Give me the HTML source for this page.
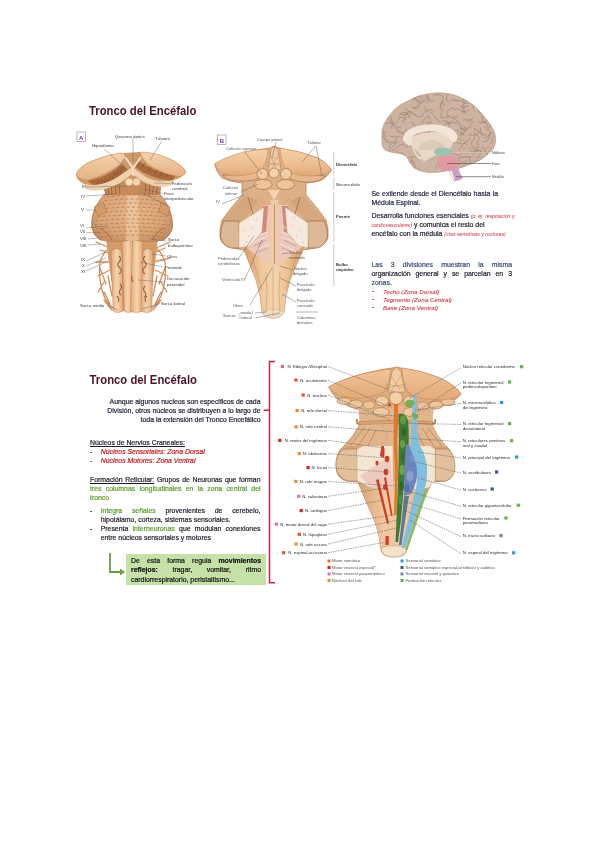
<!DOCTYPE html>
<html><head><meta charset="utf-8"><style>
html,body{margin:0;padding:0;background:#fff;}
body{width:600px;height:848px;position:relative;overflow:hidden;font-family:"Liberation Sans", sans-serif;}
.t{position:absolute;white-space:nowrap;line-height:1;-webkit-text-stroke:0.2px currentColor;}
.tj{text-align:justify;text-align-last:justify;white-space:normal;}
</style></head><body>
<svg style="position:absolute;left:0;top:0" width="600" height="848"><defs><filter id="soft" x="0" y="0" width="600" height="848" filterUnits="userSpaceOnUse"><feGaussianBlur stdDeviation="0.3"/></filter></defs><g filter="url(#soft)"><defs>
<linearGradient id="gThal" x1="0" y1="0" x2="0" y2="1"><stop offset="0" stop-color="#f4d2ae"/><stop offset="1" stop-color="#e6b284"/></linearGradient>
<radialGradient id="gPons" cx="0.5" cy="0.45" r="0.62"><stop offset="0" stop-color="#e6b68a"/><stop offset="0.65" stop-color="#daa476"/><stop offset="1" stop-color="#c48c5e"/></radialGradient>
<linearGradient id="gPyr" x1="0" y1="0" x2="1" y2="0"><stop offset="0" stop-color="#e2a878"/><stop offset="0.5" stop-color="#f6d4ae"/><stop offset="1" stop-color="#e0a676"/></linearGradient>
</defs><g><path d="M112 246 Q104 250 100 262 Q98 280 104 296 Q108 306 118 311 M114 254 L100 250 M112 262 L96 262 M110 270 L98 276 M104 282 L98 292 M104 292 L110 304 M100 268 L106 284 M108 276 L112 296 M153 246 Q161 250 165 262 Q167 280 161 296 Q157 306 147 311 M151 254 L165 248 M153 262 L170 258 M155 270 L168 276 M161 282 L167 292 M161 292 L155 304 M165 268 L159 284 M157 276 L153 296 M110 248 L96 242 M156 248 L170 242 M104 300 L112 310 M161 300 L153 310" stroke="#cf8e5c" stroke-width="1.3" fill="none" stroke-linecap="round"/><path d="M106 238 L158 238 L156 256 L150 300 L146 311 L118 311 L114 300 L108 256 Z" fill="#d49a68"/><path d="M111 252 Q116.5 245 122 252 L123.1 311 Q117.0 314 113.2 311 Z" fill="url(#gPyr)" stroke="#b07a4a" stroke-width="0.45"/><path d="M122 242 Q127.25 235 132.5 242 L133.6 311 Q127.8 314 124.2 311 Z" fill="url(#gPyr)" stroke="#b07a4a" stroke-width="0.45"/><path d="M132.5 242 Q137.75 235 143 242 L141.9 311 Q137.2 314 130.3 311 Z" fill="url(#gPyr)" stroke="#b07a4a" stroke-width="0.45"/><path d="M143 252 Q148.0 245 153 252 L151.9 311 Q147.5 314 140.8 311 Z" fill="url(#gPyr)" stroke="#b07a4a" stroke-width="0.45"/><path d="M119 256 q3 3 0 6 q-3 3 1 6 q3 3 -1 6 M145 256 q-3 3 0 6 q3 3 -1 6 q-3 3 1 6 M120 284 q3 3 0 6 q-2 3 1 5 M145 286 q-3 3 0 6 q2 3 -1 5 M132 276 q-1 3 1 6 M117 296 q3 3 1 6 M147 296 q-3 3 -1 6" stroke="#9a5e34" stroke-width="1.1" fill="none"/><path d="M110 189 Q132 186 155 189 Q163 196 168 206 Q173 216 172.5 226 Q171 235 164 240 Q150 243 132 240 Q114 243 100 240 Q93 235 91.5 226 Q91 216 96 206 Q101 196 110 189 Z" fill="url(#gPons)" stroke="#a87048" stroke-width="0.5"/><path d="M127 190 Q132 188 138 190 L139 240 Q132 242 126 240 Z" fill="#f0cba4" opacity="0.7"/><path d="M106.5 197 Q132 193 157.5 197 M104.6 201 Q132 197 159.4 201 M102.8 205 Q132 201 161.2 205 M100.9 209 Q132 205 163.1 209 M99.1 213 Q132 209 164.9 213 M97.2 217 Q132 213 166.8 217 M95.4 221 Q132 217 168.6 221 M94.5 225 Q132 221 169.5 225 M96.3 229 Q132 225 167.7 229 M98.2 233 Q132 229 165.8 233 M100.0 237 Q132 233 164.0 237" stroke="#a86c42" stroke-width="0.8" stroke-dasharray="3 2.2" fill="none" opacity="0.8"/><path d="M96 206 Q91 218 92 228 Q94 236 100 240 M168 206 Q173 218 172.5 228 Q170 236 164 240" stroke="#b07a4c" stroke-width="0.7" fill="none"/><path d="M100 228 Q108 232 112 240 M164 228 Q156 232 152 240" stroke="#a86c42" stroke-width="1" fill="none"/><path d="M94 207 L103 202 L107 212 L98 216 Z M161 202 L170 207 L168 216 L159 212 Z" fill="#d49a68" stroke="#9a6a40" stroke-width="0.5"/><path d="M76 174 Q80 165 94 160 Q110 154 124 153 L140 152 Q158 153 172 160 Q184 166 186 172 Q182 178 174 180 L160 182 L160 194 L106 194 L104 186 Q92 186 84 184 Q76 180 76 174 Z" fill="#cf9868"/><path d="M102 182 L162 182 L160 195 L106 195 Z" fill="#c68b58"/><path d="M103 183 L106 195 M107 183 L109 195 M111 183 L112 195 M115 183 L116 195 M119 184 L120 194 M146 184 L145 194 M150 183 L149 195 M154 183 L152 195 M158 183 L156 195" stroke="#8e5630" stroke-width="0.7"/><path d="M88 181 Q108 177 122 164 L128 170 Q112 183 94 186 Z" fill="#a86a3c"/><path d="M138 160 Q152 172 176 175 L172 181 Q150 179 134 166 Z" fill="#a86a3c"/><path d="M96 185 L99 180 M100 184 L103 179 M104 183 L107 178 M108 181 L111 176 M112 179 L115 173 M116 176 L119 170 M120 173 L123 167 M142 167 L145 163 M148 171 L151 167 M154 174 L157 170 M160 176 L163 172 M166 177 L169 173" stroke="#7a4624" stroke-width="0.6"/><path d="M84 184 Q100 188 118 177 L132 167 L146 177 Q160 184 174 180 L172 185 Q160 190 144 182 L132 174 L120 183 Q100 194 86 189 Z" fill="#f0d0ae"/><path d="M76 174 Q80 166 92 161 Q106 155 120 153 Q126 153 125 157 Q122 164 112 170 Q100 177 88 180 Q78 180 76 174 Z" fill="url(#gThal)" stroke="#b88050" stroke-width="0.45"/><path d="M140 152 Q156 152 170 159 Q182 165 186 172 Q184 177 176 176 Q164 174 152 167 Q142 161 140 152 Z" fill="url(#gThal)" stroke="#b88050" stroke-width="0.45"/><path d="M125 157 L133 168 L141 157" stroke="#f6e0c6" stroke-width="2" fill="none"/><path d="M133 168 L133 176" stroke="#f6e0c6" stroke-width="1.5"/><circle cx="129" cy="182" r="3.6" fill="#f6dcc0"/><circle cx="136.5" cy="182" r="3.6" fill="#f3d4b4"/><g font-family="Liberation Sans" font-size="4.3" fill="#3a3a3a"><text x="114.7" y="137.5" text-anchor="start">Quiasma óptico</text><text x="155.5" y="139.5" text-anchor="start">Tálamo</text><text x="92" y="147" text-anchor="start">Hipotálamo</text><text x="82" y="188" text-anchor="start">III</text><text x="81" y="197.5" text-anchor="start">IV</text><text x="81" y="211" text-anchor="start">V</text><text x="80" y="227" text-anchor="start">VI</text><text x="80" y="233" text-anchor="start">VII</text><text x="80" y="240" text-anchor="start">VIII</text><text x="80" y="246.5" text-anchor="start">VIII</text><text x="81" y="261" text-anchor="start">IX</text><text x="82" y="266.5" text-anchor="start">X</text><text x="81" y="272.5" text-anchor="start">XI</text><text x="80" y="307" text-anchor="start">Surco medio</text><text x="171.5" y="185" text-anchor="start">Pedúnculo</text><text x="172" y="190" text-anchor="start">cerebral</text><text x="164" y="195" text-anchor="start">Fosa</text><text x="164" y="200" text-anchor="start">interpeduncular</text><text x="168" y="241" text-anchor="start">Surco</text><text x="168" y="246.5" text-anchor="start">bulbopontino</text><text x="167" y="257.5" text-anchor="start">Oliva</text><text x="165" y="268.5" text-anchor="start">Pirámide</text><text x="167" y="280" text-anchor="start">Decusación</text><text x="167" y="285.5" text-anchor="start">piramidal</text><text x="161" y="304.5" text-anchor="start">Surco lateral</text></g><path d="M133 138 V162 M162 141 L150 160 M104 149 L128 170 M86 187 L128 186 M86 196 L115 194 M86 210 L96 210 M86 228 L108 226 M86 233 L100 232 M88 239 L98 238 M88 245 L100 244 M86 261 L106 252 M86 266 L106 258 M86 271 L106 262 M107 305.5 L118 310 M170 183.5 L154 183 M163 193.5 L140 188 M168 206 L140 192 M166 241 L150 239 M166 256 L152 254 M163 267 L140 262 M165 282 L138 280 M160 303.5 L142 309" stroke="#666" stroke-width="0.45" fill="none"/><rect x="77" y="132" width="8.5" height="9.5" fill="#fff" stroke="#9a7ab0" stroke-width="0.6"/><text x="81.2" y="139.5" font-family="Liberation Sans" font-size="6" font-weight="bold" fill="#6a3a9a" text-anchor="middle">A</text></g><g><defs>
<linearGradient id="gThB" x1="0" y1="0" x2="0" y2="1"><stop offset="0" stop-color="#f4d0a8"/><stop offset="0.6" stop-color="#eebe90"/><stop offset="1" stop-color="#e0a878"/></linearGradient>
<linearGradient id="gMedB" x1="0" y1="0" x2="1" y2="0"><stop offset="0" stop-color="#d89a68"/><stop offset="0.3" stop-color="#f0c89c"/><stop offset="0.5" stop-color="#f4d4ae"/><stop offset="0.7" stop-color="#eec496"/><stop offset="1" stop-color="#d49866"/></linearGradient>
</defs><path d="M214.7 164 Q230 156 250 151 Q262 149 270 148 L274 146 L279 148 Q300 151 318 158 Q328 164 331.5 170 Q328 176 322 180 Q314 183 306 183 L306 195 Q316 206 326 220 Q329 230 328 238 Q325 247 310 249 L303 250 Q296 265 290 280 Q285 296 284 312 Q281 318 273 318 Q264 318 262 312 Q261 296 256 280 Q250 265 244 250 L238 249 Q222 247 220 238 Q219 230 222 220 Q232 206 242 195 L242 183 Q230 182 222 178 Q216 172 214.7 164 Z" fill="#ddb088" stroke="#a87044" stroke-width="0.6"/><path d="M246.0 196.0 L222.0 222.0 M302.0 196.0 L326.0 222.0 M247.5 196.5 L224.2 222.2 M300.5 196.5 L323.8 222.2 M249.0 197.0 L226.4 222.4 M299.0 197.0 L321.6 222.4 M250.5 197.5 L228.6 222.6 M297.5 197.5 L319.4 222.6 M252.0 198.0 L230.8 222.8 M296.0 198.0 L317.2 222.8 M253.5 198.5 L233.0 223.0 M294.5 198.5 L315.0 223.0 M255.0 199.0 L235.2 223.2 M293.0 199.0 L312.8 223.2 M256.5 199.5 L237.4 223.4 M291.5 199.5 L310.6 223.4 M258.0 200.0 L239.6 223.6 M290.0 200.0 L308.4 223.6" stroke="#b48254" stroke-width="0.45" opacity="0.9"/><path d="M250 198 L262 208 M258 198 L266 206 M298 198 L286 208 M290 198 L282 206" stroke="#c09060" stroke-width="0.5"/><path d="M244 247 L304 247 Q296 265 290 280 Q285 296 284 312 Q281 318 273 318 Q264 318 262 312 Q261 296 256 280 Q250 265 244 247 Z" fill="url(#gMedB)"/><path d="M262 312 Q273 306 284 312 Q281 318 273 318 Q264 318 262 312 Z" fill="#f3dcc4" stroke="#c8a080" stroke-width="0.4"/><path d="M273 262 V316 M266 272 Q268 292 266 312 M280 272 Q278 292 280 312 M252 256 L262 290 M296 256 L286 290" stroke="#b88050" stroke-width="0.5" fill="none" opacity="0.8"/><path d="M224 221 Q220 228 220.5 236 Q222 246 231 248 L240 248 L239 221 Z" fill="#dcb896" stroke="#9a6a40" stroke-width="0.7"/><path d="M307 221 L308 248 L317 248 Q326 246 327.5 236 Q328 228 324 221 Z" fill="#dcb896" stroke="#9a6a40" stroke-width="0.7"/><path d="M262 205 L288 205 Q296 226 304 246 Q290 256 274 267 Q258 256 244 246 Q252 226 262 205 Z" fill="#eac8bc"/><path d="M262 206 L268 206 L266 232 L252 236 Z M288 206 L282 206 L284 232 L298 236 Z" fill="#d4887c"/><path d="M250 244 L268 236 M252 238 L268 232 M282 232 L298 238 M282 237 L300 244 M256 250 L270 244 M280 244 L294 250 M282 226 L294 232" stroke="#f8eae2" stroke-width="0.8"/><path d="M254 246 L266 240 M284 240 L296 246 M258 252 L268 248 M282 248 L292 252" stroke="#a86a50" stroke-width="0.6" opacity="0.7"/><path d="M270.5 200 H278.5 V262 L274.5 267 L270.5 262 Z" fill="#eecba6"/><path d="M274.5 204 V264" stroke="#a87048" stroke-width="0.6"/><path d="M239 223 L264 207 L262 232 L250 246 L239 248 Z" fill="#f6eadf" stroke="#b88a60" stroke-width="0.4"/><path d="M308 223 L285 207 L287 232 L299 246 L308 248 Z" fill="#f6eadf" stroke="#b88a60" stroke-width="0.4"/><path d="M243 230 h0.6 M248 236 h0.6 M252 228 h0.6 M246 242 h0.6 M256 220 h0.6 M300 230 h0.6 M296 236 h0.6 M292 226 h0.6 M302 242 h0.6 M294 218 h0.6" stroke="#9a7050" stroke-width="0.8"/><path d="M248 197 L253 214 M300 197 L295 214" stroke="#9a6a40" stroke-width="0.8"/><path d="M222 175 Q230 182 242 181 Q254 182 262 176 L258 170 Q240 176 222 175 Z M326 176 Q318 183 306 182 Q294 182 286 176 L290 170 Q308 176 326 176 Z" fill="#e8b88c" stroke="#9a6a40" stroke-width="0.6"/><path d="M214.7 164 Q224 157 244 152 Q258 149 268 149 Q268 160 262 170 Q250 176 232 176 Q218 173 214.7 164 Z" fill="url(#gThB)" stroke="#b88050" stroke-width="0.45"/><path d="M280 148 Q300 151 318 158 Q328 164 331.5 170 Q326 176 312 176 Q294 176 286 170 Q280 160 280 148 Z" fill="url(#gThB)" stroke="#b88050" stroke-width="0.45"/><path d="M268 170 L271 150 L274 146 L278 150 L281 170 Z" fill="#efcaa4" stroke="#a87848" stroke-width="0.5"/><path d="M266 162 L282 166 M282 162 L266 166 M269 152 L276 168 M279 152 L272 168 M271 158 H278" stroke="#b88a5c" stroke-width="0.45"/><ellipse cx="263" cy="184.5" rx="9" ry="5" fill="#efc49a" stroke="#9a6a40" stroke-width="0.6"/><ellipse cx="285.5" cy="184.5" rx="9" ry="5" fill="#efc49a" stroke="#9a6a40" stroke-width="0.6"/><circle cx="262.5" cy="174" r="5.5" fill="#f2cca4" stroke="#9a6a40" stroke-width="0.6"/><circle cx="286" cy="174" r="5.5" fill="#f2cca4" stroke="#9a6a40" stroke-width="0.6"/><circle cx="274" cy="173" r="5" fill="#f4d2ac" stroke="#9a6a40" stroke-width="0.6"/><path d="M268 190 L274 200 L280 190 Z" fill="#f2d2b0"/><g font-family="Liberation Sans" font-size="4.1" fill="#555"><text x="257" y="140.5" text-anchor="start" >Cuerpo pineal</text><text x="226" y="150" text-anchor="start" >Colículo superior</text><text x="307" y="144" text-anchor="start" >Tálamo</text><text x="223" y="189" text-anchor="start" >Colículo</text><text x="225" y="194.5" text-anchor="start" >inferior</text><text x="216" y="202.5" text-anchor="start" >IV</text><text x="218" y="259.5" text-anchor="start" >Pedúnculos</text><text x="218" y="265" text-anchor="start" >cerebelosos</text><text x="222" y="280.5" text-anchor="start" >Ventrículo IV</text><text x="233" y="306.5" text-anchor="start" >Óbex</text><text x="223" y="316.5" text-anchor="start" >Surcos</text><text x="240.5" y="313.5" text-anchor="start" >medial</text><text x="240.5" y="319" text-anchor="start" >lateral</text><text x="289" y="254" text-anchor="start" >Núcleo</text><text x="289" y="259" text-anchor="start" >cuneado</text><text x="294" y="270" text-anchor="start" >Núcleo</text><text x="293" y="275" text-anchor="start" >delgado</text><text x="297" y="286" text-anchor="start" >Fascículo</text><text x="297" y="291" text-anchor="start" >delgado</text><text x="297" y="302" text-anchor="start" >Fascículo</text><text x="297" y="307" text-anchor="start" >cuneado</text><text x="297" y="318.5" text-anchor="start" >Columnas</text><text x="297" y="323.5" text-anchor="start" >dorsales</text></g><g font-family="Liberation Sans" font-size="4.2" fill="#333"><text x="336" y="166" font-weight="bold">Diencéfalo</text><text x="336" y="185.5">Mesencéfalo</text><text x="336" y="218" font-weight="bold">Puente</text><text x="336" y="265.5" font-weight="bold">Bulbo</text><text x="336" y="270.5" font-weight="bold">raquídeo</text></g><path d="M333.8 151.7 V175 M333.8 177 V190 M333.8 192 V242 M333.8 244 V286.5 M239 313 V319" stroke="#aaa" stroke-width="0.6"/><path d="M276 142 L272 158 M244 151 L262 174 M316 146 L302 162 M316 146 L322 176 M241 192 L258 184 M222 204 L244 195 M238 259 L254 236 M245 279 L262 240 M250 305 L272 268 M255 313 L266 312 M255 318 L280 313 M288 253 L282 254 M293 270 L280 266 M296 286 L280 278 M296 302 L282 294 M296 312 L318 312" stroke="#555" stroke-width="0.45" fill="none"/><rect x="217.5" y="135" width="8.5" height="9.5" fill="#fff" stroke="#9a7ab0" stroke-width="0.6"/><text x="221.8" y="142.5" font-family="Liberation Sans" font-size="6" font-weight="bold" fill="#6a3a9a" text-anchor="middle">B</text></g><g><defs><clipPath id="brainClip"><path d="M382 140 Q381 130 384 124 Q388 116 394 110 Q401 103 410 100 Q418 95 427 94 Q436 92 444 93 Q456 94 466 100 Q476 106 483 115 Q491 124 494 131 Q497 138 495 145 Q494 150 488 154 Q482 160 474 163 Q466 166 460 168 Q452 170 446 171 Q438 173 429 172.5 Q420 172 414 168 Q409 163 407 157 Q402 153 396 153 Q387 152 384 149 Q381 145 382 140 Z"/></clipPath></defs><path d="M382 140 Q381 130 384 124 Q388 116 394 110 Q401 103 410 100 Q418 95 427 94 Q436 92 444 93 Q456 94 466 100 Q476 106 483 115 Q491 124 494 131 Q497 138 495 145 Q494 150 488 154 Q482 160 474 163 Q466 166 460 168 Q452 170 446 171 Q438 173 429 172.5 Q420 172 414 168 Q409 163 407 157 Q402 153 396 153 Q387 152 384 149 Q381 145 382 140 Z" fill="#cfb3a2"/><g clip-path="url(#brainClip)"><path d="M384.6 123.5 Q387.2 123.5 387.9 122.8 Q389.3 123.4 391.0 122.9 Q393.4 122.4 394.2 124.0 Q395.9 123.5 397.2 121.6 M383.1 129.5 Q383.6 131.0 383.2 132.7 Q385.4 135.3 385.2 136.2 Q384.7 137.1 385.4 139.1 M381.9 137.3 Q381.4 137.6 379.3 140.4 Q379.1 143.4 379.1 144.2 Q379.6 146.2 379.5 146.8 Q380.0 148.9 381.2 148.8 M385.3 141.1 Q386.7 142.3 388.1 142.5 Q390.9 142.8 391.3 141.9 Q392.5 142.4 394.2 140.7 M391.6 116.7 Q391.0 118.6 391.7 120.0 Q393.3 121.5 392.7 123.0 Q392.3 124.1 393.4 126.8 M393.0 123.6 Q394.4 125.3 395.4 126.1 Q395.7 125.9 398.1 127.8 Q399.1 127.9 401.2 126.9 M390.5 128.6 Q391.7 126.4 391.8 126.2 Q392.5 124.8 391.6 122.9 Q389.8 120.1 389.5 119.6 Q387.1 118.1 386.7 118.1 M390.3 136.4 Q391.5 137.0 393.5 136.5 Q395.7 137.6 397.4 136.8 Q398.5 135.7 400.5 136.8 Q400.7 136.7 403.0 137.5 M389.2 140.9 Q387.9 140.9 385.4 140.0 Q383.8 139.0 382.9 137.0 Q383.1 135.9 383.6 133.3 Q385.3 132.1 386.4 131.4 M391.4 150.5 Q392.6 149.7 394.1 149.6 Q395.5 150.5 397.0 151.6 Q398.3 152.2 399.5 153.7 Q401.9 152.6 402.0 153.2 Q403.6 154.9 405.2 154.6 M390.3 155.2 Q388.8 155.1 386.5 155.3 Q385.9 153.5 384.5 153.1 Q384.0 152.8 381.6 150.7 Q379.6 149.2 378.5 149.3 Q377.7 149.1 375.1 147.8 M398.0 107.1 Q397.4 106.8 399.1 104.7 Q398.4 102.8 397.2 101.7 Q396.5 100.3 397.5 99.2 Q395.3 97.2 394.4 97.0 Q392.7 98.0 391.2 98.3 M398.8 116.5 Q399.3 115.6 401.0 113.6 Q401.5 112.3 404.1 112.4 Q406.8 112.8 407.3 113.2 Q408.5 115.0 407.9 115.9 Q410.0 116.6 410.3 117.9 M397.8 120.5 Q399.6 119.8 399.6 117.7 Q401.6 117.0 402.8 117.7 Q404.8 119.1 406.1 119.4 M396.6 131.0 Q398.0 131.9 400.2 130.8 Q400.4 131.7 402.5 132.9 Q403.7 133.1 404.9 135.6 Q405.7 136.2 405.0 138.2 M397.2 137.4 Q396.4 139.6 395.6 141.0 Q395.3 143.3 394.6 144.6 Q393.5 146.5 392.2 146.7 M398.3 141.3 Q397.8 143.0 395.1 142.8 Q392.8 143.2 392.2 143.4 Q390.8 143.6 389.8 145.5 Q390.2 145.9 390.5 148.5 Q390.6 148.9 388.3 151.1 M396.0 148.3 Q398.6 146.6 399.2 146.0 Q400.0 145.9 401.2 144.3 Q402.4 143.9 404.4 145.0 Q405.3 146.5 407.9 146.7 M395.6 155.5 Q396.0 156.9 397.7 158.4 Q399.5 160.1 399.6 161.1 Q400.8 161.8 400.1 164.7 Q400.1 166.6 399.6 168.4 Q397.6 168.6 396.9 170.3 M403.4 101.5 Q404.9 98.7 404.4 97.7 Q403.3 95.0 403.4 94.2 Q404.7 91.9 404.6 91.4 M404.5 108.9 Q406.7 109.0 407.4 109.7 Q408.4 112.1 410.0 112.0 Q410.2 112.7 410.5 115.7 M406.3 115.6 Q405.9 115.0 406.9 112.8 Q407.7 111.2 410.6 111.7 Q412.4 112.3 413.0 113.8 Q414.2 115.0 415.7 115.7 M402.6 123.0 Q402.8 122.6 403.7 120.2 Q405.2 118.7 405.3 118.0 Q405.6 117.2 404.2 114.4 M407.2 129.3 Q405.4 131.8 404.8 132.2 Q403.9 132.6 401.4 133.4 Q400.2 133.1 398.1 131.5 Q397.9 129.1 396.7 128.7 Q394.4 127.3 394.4 126.5 M405.7 136.6 Q406.2 137.1 407.2 139.0 Q408.8 138.5 410.4 139.3 Q411.8 137.3 412.7 137.2 Q412.5 135.8 412.6 134.3 Q412.3 132.3 414.3 131.3 M405.1 158.7 Q405.7 160.6 405.8 161.3 Q406.8 161.8 409.5 162.4 Q411.2 160.7 412.5 161.1 Q413.9 162.2 415.1 162.8 M404.3 162.9 Q405.5 160.2 405.5 159.6 Q407.2 158.4 408.3 157.7 Q409.1 157.1 410.8 157.1 Q412.1 157.8 414.4 157.0 Q415.2 156.5 417.2 154.8 M413.6 96.0 Q414.4 97.2 414.7 98.5 Q415.9 98.2 417.0 99.7 Q418.5 99.7 420.2 100.9 M412.4 100.6 Q412.9 98.8 414.5 98.9 Q415.2 97.8 416.9 96.6 Q418.6 97.2 419.8 96.7 Q420.5 96.7 422.3 97.9 Q422.8 98.8 422.7 101.2 M412.9 108.6 Q413.7 108.6 416.3 108.3 Q417.4 107.3 417.7 106.0 Q418.7 104.3 419.9 103.9 Q421.5 101.3 421.5 100.7 M410.1 116.5 Q408.4 114.6 407.2 114.3 Q405.6 114.0 403.5 114.7 Q401.1 114.3 400.1 113.1 M412.4 121.8 Q413.1 123.8 413.9 124.8 Q414.3 125.3 416.7 127.1 Q416.9 128.8 418.1 129.4 Q417.4 130.5 418.4 132.3 Q416.9 134.2 417.2 135.1 M414.0 162.7 Q414.8 165.1 415.2 166.0 Q414.6 166.7 414.6 169.1 Q413.1 170.2 413.6 171.6 Q411.2 171.3 410.2 173.1 M410.3 170.0 Q412.1 167.8 412.6 167.6 Q413.2 164.8 412.0 164.0 Q412.7 163.0 412.3 161.3 Q412.3 160.1 411.1 158.7 M420.3 93.5 Q419.1 95.0 417.7 95.4 Q415.6 96.5 413.9 96.1 Q412.8 96.6 410.2 95.4 Q409.5 93.8 408.2 92.0 M420.1 102.5 Q417.9 102.2 417.4 101.3 Q416.2 100.3 415.4 99.1 Q413.5 99.1 411.8 97.9 Q411.4 99.0 409.1 98.2 M420.3 105.6 Q418.7 106.5 417.9 107.0 Q416.3 107.4 414.8 108.0 Q414.5 108.2 412.2 106.3 M419.6 117.2 Q419.2 117.2 416.7 116.3 Q416.7 115.1 415.0 114.3 Q414.4 115.1 412.4 113.6 Q411.9 111.1 410.1 110.7 M421.1 124.0 Q421.8 123.7 422.9 121.7 Q422.9 121.1 424.6 118.5 Q426.4 118.2 427.1 117.4 Q428.5 116.2 429.5 116.5 M419.0 168.6 Q419.2 169.0 417.7 170.9 Q415.9 173.0 415.8 173.5 Q414.5 174.5 415.2 176.5 M425.8 95.1 Q426.4 97.4 426.2 98.6 Q425.4 100.6 424.8 100.9 Q423.0 100.8 422.2 102.6 Q421.1 103.1 418.4 102.6 Q417.8 102.6 416.7 100.4 M427.2 103.3 Q427.1 102.5 428.4 100.6 Q428.6 99.2 428.5 96.7 Q426.8 94.1 427.2 93.2 Q426.0 91.8 423.9 92.0 Q422.2 90.8 420.1 91.6 M424.6 106.3 Q425.7 108.8 425.2 109.2 Q425.5 110.5 427.6 110.8 Q429.5 112.3 430.9 112.8 Q432.6 113.2 433.0 114.9 M428.4 115.1 Q428.0 116.5 429.4 118.5 Q430.6 120.5 430.3 122.1 Q432.8 123.1 433.4 124.0 M425.3 122.0 Q428.4 122.9 429.1 122.9 Q428.6 124.8 430.3 126.0 Q430.0 127.1 429.7 128.6 Q430.8 129.4 430.1 131.2 Q429.6 131.8 428.1 133.7 M425.3 172.3 Q424.3 172.8 425.3 175.6 Q427.6 177.5 427.8 178.7 Q429.9 179.2 430.9 180.3 M433.5 95.5 Q434.8 94.5 436.0 95.3 Q436.5 94.2 438.9 94.4 Q440.6 95.7 440.9 96.0 M434.4 100.5 Q433.2 101.1 431.3 100.8 Q429.7 101.1 428.1 99.1 Q427.3 97.1 426.9 95.5 M433.3 110.0 Q430.7 110.7 430.3 109.4 Q428.4 109.5 426.9 110.2 Q426.4 112.2 424.0 112.4 Q422.7 115.0 422.6 115.9 Q420.0 117.1 419.4 116.4 M433.2 115.8 Q435.5 116.7 435.9 118.2 Q436.3 119.8 438.2 120.6 Q438.2 121.5 440.3 122.2 M431.1 123.9 Q429.5 124.3 428.8 125.6 Q429.6 127.3 428.9 129.4 Q428.3 129.9 430.0 132.6 Q429.2 134.9 428.4 135.1 M435.5 169.5 Q436.3 167.1 436.5 165.7 Q437.5 164.3 439.7 163.4 Q442.2 164.4 442.6 164.0 M439.6 92.3 Q440.1 91.2 442.1 91.2 Q443.7 91.5 445.8 91.1 Q446.4 91.8 448.2 93.5 M442.1 101.8 Q440.3 104.2 440.5 104.6 Q440.1 106.6 442.0 108.1 Q442.7 108.8 443.0 111.1 Q441.3 112.7 441.1 113.1 Q440.7 115.9 442.1 116.7 M440.6 110.1 Q439.7 108.6 440.3 106.8 Q441.0 106.0 441.0 103.9 Q442.2 102.8 441.8 100.7 M440.1 117.3 Q442.0 117.7 443.2 118.0 Q445.4 116.9 446.6 117.0 Q448.7 116.0 450.3 116.2 M438.5 124.4 Q438.2 124.5 439.6 126.9 Q440.2 127.7 441.0 129.7 Q441.6 131.2 440.4 132.3 Q439.2 133.2 439.2 135.8 M439.1 126.7 Q438.2 127.8 436.1 128.9 Q434.3 128.8 433.0 129.9 Q431.6 130.3 429.7 131.0 Q429.0 132.6 427.3 133.1 Q426.6 133.0 424.7 132.4 M442.2 173.4 Q441.8 171.0 442.7 169.8 Q442.9 169.4 443.4 167.0 Q444.5 165.8 443.3 164.0 Q442.3 162.2 440.5 162.5 Q439.7 162.4 437.1 161.9 M448.9 93.8 Q447.2 94.9 446.7 96.8 Q446.0 97.7 446.9 100.1 Q447.5 101.2 449.0 102.6 M449.5 101.9 Q449.5 100.3 451.7 99.7 Q453.4 100.7 455.1 100.4 Q457.0 100.2 458.3 101.2 M445.0 105.8 Q444.7 104.0 442.7 104.1 Q442.9 103.1 443.3 100.4 Q444.1 99.4 443.0 97.5 Q442.1 95.3 441.3 94.6 M447.1 113.1 Q446.9 115.1 448.4 116.2 Q450.3 116.3 451.4 118.2 Q453.3 118.0 454.3 118.1 Q455.5 117.1 457.9 117.1 M446.2 120.6 Q446.2 122.4 448.5 122.9 Q447.8 125.4 449.3 126.3 Q448.5 128.4 449.6 129.3 M445.6 166.1 Q446.7 168.2 447.7 169.0 Q447.2 170.2 446.7 172.6 Q446.5 174.3 444.2 174.1 M445.1 173.0 Q445.4 171.4 445.2 169.8 Q443.6 168.1 444.3 167.1 Q444.5 166.0 445.9 164.2 Q445.9 163.7 445.4 161.0 M453.3 94.4 Q454.8 94.0 456.7 94.1 Q459.2 92.8 459.9 92.1 Q460.2 92.5 462.3 92.9 M453.0 100.3 Q453.9 99.8 455.9 100.6 Q459.0 99.6 459.8 101.1 Q462.3 100.5 463.5 102.0 M455.6 109.9 Q453.4 109.8 453.6 108.2 Q451.2 107.4 450.5 108.1 Q449.8 109.8 448.2 110.1 Q447.2 111.9 446.9 112.9 M454.0 115.7 Q453.1 116.3 454.0 119.0 Q455.6 118.8 456.2 120.5 Q457.7 120.6 459.4 122.3 Q458.8 123.6 460.3 126.0 Q460.5 128.3 461.2 129.6 M452.8 123.1 Q451.6 122.6 450.1 123.9 Q447.9 123.3 447.6 121.5 Q445.5 121.5 444.9 120.9 Q444.3 121.1 441.5 121.6 M455.0 130.5 Q456.8 130.1 458.1 130.3 Q458.2 132.4 460.5 133.5 Q461.3 134.1 463.1 133.6 Q463.2 133.7 464.2 136.1 M454.2 135.9 Q453.4 136.8 451.9 139.0 Q449.7 139.8 449.1 140.3 Q447.2 141.3 446.3 140.5 Q444.6 141.8 442.6 141.1 M452.9 157.3 Q453.3 158.4 453.8 160.0 Q453.8 161.8 455.8 161.7 Q456.3 162.0 458.3 162.4 Q459.5 163.7 458.9 165.1 M453.6 165.5 Q453.9 166.6 452.6 168.8 Q452.6 170.9 453.7 171.5 Q453.1 174.3 454.6 175.3 M456.2 171.2 Q454.5 169.9 453.7 168.6 Q453.4 167.8 451.0 169.4 Q449.9 170.4 447.3 170.3 Q446.5 171.7 444.0 171.9 M463.3 100.5 Q463.0 98.2 465.2 97.7 Q465.6 95.4 465.9 94.2 Q467.5 93.2 469.2 93.2 Q470.0 91.0 470.4 89.9 M459.6 106.4 Q460.4 106.1 462.8 107.8 Q464.0 106.0 465.6 106.6 Q466.6 106.1 468.5 105.5 M463.3 113.5 Q463.2 111.4 462.8 110.2 Q462.4 108.9 462.1 106.3 Q462.2 104.6 464.3 103.4 Q466.9 103.5 468.2 103.5 M458.6 123.2 Q456.5 122.9 455.1 123.0 Q454.9 123.3 452.4 121.5 Q451.3 121.9 449.0 122.6 Q447.2 123.0 445.5 124.0 Q445.3 124.5 443.1 124.8 M460.8 127.9 Q461.1 130.4 461.6 130.5 Q461.9 133.1 461.1 133.4 Q460.2 136.5 461.2 137.2 M461.0 134.7 Q461.3 133.2 463.5 133.7 Q463.6 131.4 465.3 131.4 Q465.4 129.2 466.3 128.3 Q465.2 128.3 464.1 126.0 Q462.7 126.3 461.5 125.4 M462.9 140.9 Q462.5 140.7 460.1 139.1 Q457.6 138.2 457.1 139.6 Q456.3 139.7 453.8 141.6 M459.4 149.4 Q459.3 148.4 461.1 146.7 Q463.1 146.6 462.8 144.3 Q463.9 143.6 465.5 141.3 Q468.4 141.0 469.0 139.9 Q470.4 138.0 470.5 137.5 M461.4 154.7 Q459.5 154.7 458.3 156.1 Q457.5 154.7 455.5 153.9 Q453.1 153.9 452.5 153.2 Q450.4 152.9 448.8 152.9 M461.0 166.2 Q459.4 166.8 459.7 169.2 Q456.8 170.1 456.0 170.4 Q454.3 171.5 454.0 172.9 Q453.6 174.3 453.9 176.4 Q453.0 178.5 453.1 179.8 M458.6 171.6 Q459.4 170.1 461.5 169.0 Q463.2 167.6 463.3 165.8 Q465.0 163.7 464.8 163.6 Q465.8 162.6 465.7 160.7 M470.2 98.6 Q468.9 98.7 467.5 98.9 Q465.6 97.5 465.0 98.3 Q463.3 97.2 462.9 95.9 Q462.9 96.3 460.4 95.9 M469.5 110.2 Q467.3 110.7 466.8 111.7 Q464.7 112.0 464.2 111.7 Q461.9 111.9 460.7 110.7 Q458.5 109.3 458.1 108.1 Q457.4 109.6 454.5 109.2 M465.6 114.3 Q464.1 113.7 464.5 110.8 Q463.7 109.9 464.1 108.2 Q463.6 106.1 463.7 105.3 Q465.0 103.9 463.9 102.1 Q462.2 102.0 462.3 100.0 M469.5 122.0 Q470.7 124.2 471.3 124.6 Q469.5 125.2 470.1 127.4 Q469.0 127.4 466.9 129.0 Q464.8 129.0 464.5 130.0 Q464.0 127.9 461.7 128.0 M467.6 126.9 Q467.9 127.6 466.3 129.8 Q463.8 131.0 463.0 130.0 Q462.4 128.4 461.3 128.0 M468.5 134.6 Q469.8 134.2 471.8 135.5 Q472.7 135.0 475.1 135.1 Q477.1 134.7 478.3 133.2 Q479.4 131.7 478.4 130.2 M468.1 144.2 Q467.1 145.0 465.7 143.6 Q463.7 143.2 462.3 143.8 Q460.2 143.5 459.0 143.2 Q456.1 141.9 455.4 142.5 Q454.8 142.8 452.7 143.4 M469.8 149.5 Q470.1 150.1 471.7 152.0 Q472.2 151.3 474.4 151.6 Q476.0 150.3 477.7 149.4 Q477.4 148.6 477.9 146.7 Q477.7 145.1 479.0 143.3 M469.6 156.9 Q466.7 157.5 465.7 156.8 Q463.6 156.8 462.1 157.1 Q460.4 158.0 459.5 157.8 Q459.8 159.4 458.5 160.3 Q457.0 161.0 457.3 162.6 M470.3 164.3 Q469.7 163.9 470.9 161.4 Q469.9 161.1 469.3 158.9 Q470.3 157.6 470.3 156.3 M475.2 102.8 Q473.7 101.1 473.8 100.1 Q473.0 98.8 472.8 97.0 Q473.6 95.6 474.1 94.3 Q476.0 93.5 477.1 94.1 M473.8 109.2 Q472.9 106.7 473.2 105.5 Q470.7 103.4 470.4 102.8 Q468.7 101.0 467.6 101.0 Q466.4 101.2 464.2 101.4 M473.3 117.5 Q471.4 119.6 471.2 119.7 Q468.4 120.8 467.6 120.5 Q466.8 121.8 465.8 122.6 M473.1 123.3 Q473.3 122.6 471.3 120.9 Q470.2 119.4 467.9 119.1 Q466.8 118.7 465.4 119.3 Q463.3 120.0 462.9 120.8 M473.9 127.9 Q475.5 129.3 475.6 130.5 Q477.6 129.9 478.2 130.9 Q479.7 132.4 480.9 133.3 Q483.0 134.1 483.9 134.2 Q485.8 134.4 486.9 135.4 M473.6 136.7 Q474.9 137.2 474.2 139.5 Q471.9 141.7 471.7 142.0 Q471.0 144.8 472.1 145.3 Q472.0 147.4 474.0 148.6 Q475.5 149.9 476.6 148.9 M475.9 144.8 Q476.8 142.3 476.9 141.8 Q479.1 141.4 479.2 139.2 Q478.3 138.4 478.8 136.6 Q478.0 134.8 475.2 135.0 Q474.1 133.1 474.4 132.3 M473.3 150.2 Q474.1 150.2 477.2 150.2 Q479.2 150.8 480.6 150.8 Q481.2 153.1 481.7 153.2 M472.7 155.1 Q472.6 154.2 474.1 152.7 Q476.3 151.3 477.6 151.9 Q478.7 150.6 481.0 149.9 M473.7 163.3 Q474.8 164.0 477.1 164.4 Q479.0 164.8 479.9 165.5 Q481.0 164.2 483.7 164.6 Q485.5 163.1 486.0 162.4 M480.4 106.7 Q478.3 107.0 478.3 108.5 Q478.4 110.1 478.5 112.0 Q479.1 113.3 481.4 113.7 Q483.4 114.4 483.7 112.6 M481.6 115.9 Q482.4 117.8 482.7 118.6 Q482.3 120.3 484.2 122.0 Q486.0 122.1 485.9 124.0 M480.5 123.9 Q481.3 123.3 483.8 121.7 Q484.2 122.7 486.3 122.7 Q488.0 124.3 487.6 126.1 Q487.8 128.3 489.1 128.3 M479.9 127.4 Q480.4 128.3 480.5 130.3 Q480.7 132.9 481.1 134.0 Q482.3 133.9 482.8 136.0 M484.1 138.4 Q485.0 138.0 486.6 137.3 Q489.0 135.8 489.0 134.5 Q490.5 132.7 492.1 132.3 Q492.8 133.6 495.8 133.6 Q496.3 133.0 498.4 134.0 M483.2 141.6 Q485.4 140.4 487.1 141.4 Q487.0 141.2 488.5 138.7 Q488.9 137.3 489.0 135.0 M480.8 151.2 Q480.0 152.9 479.7 154.4 Q480.3 155.2 479.0 157.3 Q478.2 157.2 475.5 158.7 M482.0 159.4 Q480.8 159.7 479.3 160.5 Q478.1 160.7 476.3 160.3 Q474.5 162.3 474.6 163.0 M487.2 119.6 Q485.1 121.6 484.3 121.9 Q483.8 122.0 481.4 122.0 Q480.9 122.3 478.2 122.6 M488.9 128.0 Q490.3 126.8 491.0 124.7 Q492.1 122.5 492.4 122.1 Q491.6 119.8 492.0 118.5 Q492.8 118.0 493.8 116.5 Q494.4 115.1 492.9 112.9 M488.9 136.7 Q488.6 135.6 490.5 133.7 Q490.6 131.3 489.0 130.0 Q488.1 130.3 485.9 128.2 Q485.5 126.2 484.0 126.4 M490.8 144.3 Q491.9 142.5 492.3 140.7 Q491.3 138.4 492.6 137.7 Q494.0 137.3 494.6 135.7 M490.0 150.1 Q488.5 151.6 488.1 151.8 Q487.1 152.1 488.2 154.8 Q487.7 156.4 488.1 158.1 Q488.5 160.1 490.2 159.7 M486.8 155.0 Q485.6 152.6 485.6 151.6 Q485.0 149.1 485.2 148.8 Q483.8 149.2 482.4 147.5" stroke="#a08676" stroke-width="0.8" fill="none" opacity="0.9"/></g><path d="M382 140 Q381 130 384 124 Q388 116 394 110 Q401 103 410 100 Q418 95 427 94 Q436 92 444 93 Q456 94 466 100 Q476 106 483 115 Q491 124 494 131 Q497 138 495 145 Q494 150 488 154 Q482 160 474 163 Q466 166 460 168 Q452 170 446 171 Q438 173 429 172.5 Q420 172 414 168 Q409 163 407 157 Q402 153 396 153 Q387 152 384 149 Q381 145 382 140 Z" fill="none" stroke="#b89a88" stroke-width="0.6"/><g clip-path="url(#brainClip)"><path d="M458 150 Q472 146 492 148 M458 154 Q474 151 490 152 M456 158 Q470 156 486 157 M456 162 Q468 161 480 161 M462 166 Q470 165 476 164" stroke="#b09482" stroke-width="0.45" fill="none"/></g><path d="M408 139 Q418 133 432 132 Q448 132 454 141 Q452 148 446 151 L434 156 Q426 160 424 162 L420 154 Q412 146 408 139 Z" fill="#e8d8c8"/><path d="M418 150 Q420 142 430 140 Q440 140 444 146 Q440 150 434 150 Q426 150 418 150 Z" fill="#dccab8"/><path d="M403 140 Q403 130 418 126 Q434 122 448 127 Q459 132 457 140 Q455 144 451 141 Q447 133 433 131 Q419 131 413 136 Q410 140 413 145 Q408 147 403 140 Z" fill="#f1e5d8"/><path d="M413 145 Q414 156 422 159" stroke="#efe2d2" stroke-width="1.6" fill="none"/><path d="M433.5 152 Q436 147 444 147.5 Q451 148 452 152 Q450 156 444 156 Q437 157 433.5 152 Z" fill="#98c4b4"/><path d="M438 160 Q439 155 448 155 Q458 156 459 163 Q458 170 450 171 Q440 171 438 165 Z" fill="#e09aa0"/><path d="M451 169 L458 167 Q460 174 463 178 Q460 181 455 181 Q453 175 451 169 Z" fill="#caa0c8"/><path d="M449 171 Q452 178 455 182" stroke="#d8bca8" stroke-width="1" fill="none"/><path d="M452 152.5 H491" stroke="#d0d0d0" stroke-width="0.6"/><path d="M447 163.5 H491 M456 176.7 H491" stroke="#444" stroke-width="0.6"/><g font-family="Liberation Sans" font-size="3.4" fill="#444"><text x="492" y="153.8">Midbrain</text><text x="492" y="164.8">Pons</text><text x="492" y="178">Medulla</text></g></g><g><defs>
<linearGradient id="gTh2" x1="0" y1="0" x2="0" y2="1"><stop offset="0" stop-color="#f0c398"/><stop offset="1" stop-color="#e2aa78"/></linearGradient>
<linearGradient id="gMed2" x1="0" y1="0" x2="1" y2="0"><stop offset="0" stop-color="#d8a070"/><stop offset="0.35" stop-color="#f0c8a0"/><stop offset="0.65" stop-color="#f0c8a0"/><stop offset="1" stop-color="#d49a68"/></linearGradient>
</defs><path d="M328.7 387 Q340 380 362 374 Q382 369 392 368 L396.5 367 L401 368 Q424 371 442 379 Q456 386 461 394 Q456 401 446 404 Q438 408 432 410 L432 424 Q436 436 446 446 Q454 452 454 466 Q454 478 446 481 L432 482 Q422 502 414 522 Q408 536 407 550 Q406 557 394 557 Q382 557 381 550 Q380 536 375 522 Q366 502 358 482 L346 481 Q336 478 336 466 Q336 452 344 446 Q354 436 360 424 L360 410 Q352 408 344 404 Q334 398 328.7 387 Z" fill="#ddab7e" stroke="#a87044" stroke-width="0.6"/><path d="M362.0 426.0 Q352.0 440.0 342.0 452.0 M430.0 426.0 Q440.0 440.0 450.0 452.0 M364.0 426.3 Q354.5 440.0 344.8 452.2 M428.0 426.3 Q437.5 440.0 447.2 452.2 M366.0 426.6 Q357.0 440.0 347.6 452.4 M426.0 426.6 Q435.0 440.0 444.4 452.4 M368.0 426.9 Q359.5 440.0 350.4 452.6 M424.0 426.9 Q432.5 440.0 441.6 452.6 M370.0 427.2 Q362.0 440.0 353.2 452.8 M422.0 427.2 Q430.0 440.0 438.8 452.8 M372.0 427.5 Q364.5 440.0 356.0 453.0 M420.0 427.5 Q427.5 440.0 436.0 453.0 M374.0 427.8 Q367.0 440.0 358.8 453.2 M418.0 427.8 Q425.0 440.0 433.2 453.2 M376.0 428.1 Q369.5 440.0 361.6 453.4 M416.0 428.1 Q422.5 440.0 430.4 453.4 M378.0 428.4 Q372.0 440.0 364.4 453.6 M414.0 428.4 Q420.0 440.0 427.6 453.6 M380.0 428.7 Q374.5 440.0 367.2 453.8 M412.0 428.7 Q417.5 440.0 424.8 453.8" stroke="#b07c4c" stroke-width="0.45" fill="none" opacity="0.85"/><path d="M358 481 L432 481 Q422 502 414 522 Q408 536 407 550 Q406 557 394 557 Q382 557 381 550 Q380 536 375 522 Q366 502 358 481 Z" fill="url(#gMed2)"/><path d="M381 548 Q394 543 407 548 Q406 557 394 557 Q382 557 381 548 Z" fill="#f4e2cc" stroke="#c09070" stroke-width="0.5"/><path d="M343 449 Q335 456 336 466 Q337 478 348 481 L358 481 L357 449 Z" fill="#e2c09c" stroke="#a87444" stroke-width="0.6"/><path d="M435 449 L435 481 L446 481 Q455 478 455 466 Q455 455 448 449 Z" fill="#e2c09c" stroke="#a87444" stroke-width="0.6"/><path d="M357 449 L378 438 L393 446 L393 490 L372 488 L357 481 Z" fill="#f4e4d2" stroke="#c8a080" stroke-width="0.4"/><path d="M435 449 L418 438 L410 446 L414 490 L428 488 L435 481 Z" fill="#f4e4d2" stroke="#c8a080" stroke-width="0.4"/><path d="M360 476 L390 456 L393 490 L372 488 Z" fill="#ebc6bc" opacity="0.85"/><path d="M376 480 L387 524 L389 523 L378.5 479 Z M384 478 L391 516 L392.5 515 L386 477 Z M382 443 Q386 448 384 458 L380 456 Z" fill="#d23a26"/><ellipse cx="387" cy="459" rx="2.3" ry="3.2" fill="#d23a26"/><ellipse cx="386" cy="472" rx="2.3" ry="3.2" fill="#d23a26"/><ellipse cx="385" cy="487" rx="2" ry="3" fill="#d23a26"/><ellipse cx="377" cy="463" rx="1.5" ry="2.5" fill="#d23a26"/><rect x="385.5" y="536" width="3.2" height="9" fill="#d23a26"/><path d="M389 402 Q393 406 391 412 L387 410 Z M390 419 L393 423 L389 425 Z" fill="#d23a26"/><path d="M358 406 L434 406 L432 424 Q436 436 446 446 L346 446 Q356 436 360 424 Z" fill="#e2b68c"/><path d="M404.4 436.0 h0.7 M416.1 443.0 h0.7 M412.3 442.3 h0.7 M364.0 426.3 h0.7 M426.1 432.7 h0.7 M423.3 414.0 h0.7 M393.9 418.6 h0.7 M399.0 430.1 h0.7 M362.9 417.6 h0.7 M381.0 442.1 h0.7 M414.1 415.6 h0.7 M416.2 414.9 h0.7 M404.0 414.4 h0.7 M362.1 440.5 h0.7 M376.2 417.5 h0.7 M428.8 440.5 h0.7 M381.7 443.7 h0.7 M398.7 433.7 h0.7 M375.9 442.9 h0.7 M409.0 443.8 h0.7 M422.8 420.5 h0.7 M386.6 415.8 h0.7 M371.9 412.3 h0.7 M382.5 431.1 h0.7 M362.2 433.7 h0.7 M385.0 420.8 h0.7 M417.7 426.8 h0.7 M383.5 426.8 h0.7 M409.9 412.0 h0.7 M428.3 410.8 h0.7 M413.0 439.6 h0.7 M363.2 437.6 h0.7 M386.9 430.2 h0.7 M362.6 411.6 h0.7 M374.3 443.4 h0.7 M375.4 436.5 h0.7 M425.2 443.0 h0.7 M385.4 422.4 h0.7 M397.7 437.1 h0.7 M369.3 436.2 h0.7 M416.2 440.1 h0.7 M364.5 443.1 h0.7 M368.2 421.9 h0.7 M403.5 442.1 h0.7 M385.1 442.3 h0.7 M399.1 420.9 h0.7 M383.5 416.2 h0.7 M367.3 415.2 h0.7 M408.9 444.9 h0.7 M373.0 411.7 h0.7 M429.1 428.7 h0.7 M389.6 418.3 h0.7 M402.4 438.9 h0.7 M393.0 424.8 h0.7 M365.8 442.1 h0.7 M364.2 427.3 h0.7 M419.0 414.6 h0.7 M411.8 443.2 h0.7 M404.9 437.6 h0.7 M369.3 425.2 h0.7 M372.1 439.6 h0.7 M382.0 425.9 h0.7 M430.0 439.8 h0.7 M428.4 425.9 h0.7 M395.2 435.5 h0.7 M394.6 420.2 h0.7 M389.5 415.1 h0.7 M387.6 444.6 h0.7 M427.3 431.9 h0.7 M396.0 421.8 h0.7 M368.1 419.5 h0.7 M415.2 440.4 h0.7 M386.6 437.5 h0.7 M414.7 434.3 h0.7 M407.2 436.6 h0.7 M386.7 434.7 h0.7 M381.1 427.0 h0.7 M414.3 434.2 h0.7 M382.0 443.1 h0.7 M406.2 430.3 h0.7 M362.8 429.1 h0.7 M379.0 433.5 h0.7 M393.5 438.6 h0.7 M406.0 437.9 h0.7 M385.7 432.5 h0.7 M412.2 439.0 h0.7 M385.8 439.5 h0.7 M421.2 434.1 h0.7 M428.4 443.5 h0.7 M397.2 428.5 h0.7" stroke="#a8764a" stroke-width="0.7" opacity="0.8"/><path d="M364 428 L350 446 M370 428 L358 446 M376 430 L368 446 M428 428 L442 446 M422 428 L434 446 M416 430 L424 446" stroke="#a8764a" stroke-width="0.6"/><ellipse cx="344" cy="401" rx="7" ry="3.5" fill="#edc49a" stroke="#9a6a40" stroke-width="0.55"/><ellipse cx="356" cy="404" rx="7" ry="4" fill="#edc49a" stroke="#9a6a40" stroke-width="0.55"/><ellipse cx="369" cy="405" rx="6" ry="4" fill="#edc49a" stroke="#9a6a40" stroke-width="0.55"/><ellipse cx="448" cy="402" rx="7" ry="3.5" fill="#edc49a" stroke="#9a6a40" stroke-width="0.55"/><ellipse cx="436" cy="405" rx="7" ry="4" fill="#edc49a" stroke="#9a6a40" stroke-width="0.55"/><ellipse cx="423" cy="406" rx="6" ry="4" fill="#edc49a" stroke="#9a6a40" stroke-width="0.55"/><ellipse cx="381" cy="412" rx="8" ry="4.5" fill="#efc8a0" stroke="#9a6a40" stroke-width="0.55"/><ellipse cx="411" cy="412" rx="8" ry="4.5" fill="#efc8a0" stroke="#9a6a40" stroke-width="0.55"/><ellipse cx="382" cy="401" rx="6.5" ry="5" fill="#f0caa2" stroke="#9a6a40" stroke-width="0.55"/><circle cx="396" cy="398" r="6.5" fill="#f3d0aa" stroke="#9a6a40" stroke-width="0.55"/><ellipse cx="410" cy="401" rx="6.5" ry="5" fill="#f0caa2" stroke="#9a6a40" stroke-width="0.55"/><path d="M360 424 Q356 424 357 420 M432 424 Q436 424 435 420" stroke="#c48a58" stroke-width="2.2" fill="none" stroke-linecap="round"/><path d="M359 421.5 Q396 419 433 421.5 L433 424.5 Q396 422 359 424.5 Z" fill="#d8a472" stroke="#9a6a40" stroke-width="0.4"/><path d="M328.7 387 Q340 380 362 374 Q380 370 391 369 Q390 382 384 392 Q370 399 352 398 Q334 396 328.7 387 Z" fill="url(#gTh2)" stroke="#b88050" stroke-width="0.45"/><path d="M402 368 Q424 371 442 379 Q456 386 461 394 Q456 400 436 400 Q416 399 408 392 Q402 382 402 368 Z" fill="url(#gTh2)" stroke="#b88050" stroke-width="0.45"/><path d="M388 392 L392 372 L396.5 367 L401 372 L405 392 Z" fill="#f0cca6" stroke="#a87444" stroke-width="0.5"/><path d="M386 384 L406 388 M406 384 L386 388 M390 374 L400 390 M402 374 L392 390" stroke="#b88a5c" stroke-width="0.45"/><path d="M394 404 L398 404 L398.5 420 L397 440 L398 470 L396.5 515 L394 515 L395 470 L393.5 440 Z" fill="#e4782c"/><path d="M398.5 414 Q404 412 408 420 Q410 440 407 460 Q403 490 401 520 L398 542 L395.5 542 Q397 510 398 480 Q399.5 450 398.5 414 Z" fill="#3c7c36"/><ellipse cx="403" cy="420" rx="3" ry="4.5" fill="#5c9c44"/><ellipse cx="404" cy="432" rx="3" ry="4" fill="#2f6a2c"/><ellipse cx="402.5" cy="444" rx="2.5" ry="4" fill="#62a24a"/><ellipse cx="404" cy="456" rx="3" ry="4.5" fill="#346e30"/><ellipse cx="402" cy="470" rx="2.5" ry="5" fill="#68a64c"/><ellipse cx="401.5" cy="486" rx="2.2" ry="4.5" fill="#2f6a2c"/><ellipse cx="400.5" cy="500" rx="2" ry="5" fill="#4e8e40"/><path d="M406 444 Q416 448 418 464 Q418 482 411 494 L404 496 Q404 468 406 444 Z" fill="#6e84bc"/><ellipse cx="410" cy="476" rx="3.5" ry="5.5" fill="#8c9ed0"/><ellipse cx="413" cy="458" rx="2.8" ry="4.5" fill="#7a8ec4"/><ellipse cx="407" cy="488" rx="2.5" ry="4" fill="#5a70a8"/><path d="M404 496 L409 496 Q405 520 401.5 545 L399 545 Q402 520 404 496 Z" fill="#5a7898"/><path d="M413.5 395 L416.5 395 Q416 430 420 446 Q430 462 426 484 Q417 512 405 548 L401.5 548 Q410 512 416 488 Q420 466 410.5 450 Q411 420 413.5 395 Z" fill="#80c0de"/><path d="M425 488 Q416 516 405 550 L407.5 550 Q419 516 428 490 Z" fill="#8cbc68"/><path d="M405 402 Q410 397 415 402 Q413 409 406 407 Z M412 414 Q417 412 419 417 L414 420 Z" fill="#78ae50"/><path d="M328 366.5 L395 392 M328 380.0 L392 408 M328 395.0 L390 420 M328 410.6 L396 416 M328 426.8 L396 432 M328 440.4 L384 448 M328 453.6 L388 458 M328 467.6 L386 472 M328 481.4 L396 486 M328 496.3 L386 488 M328 510.6 L384 500 M328 524.2 L394 515 M328 534.3 L398 520 M328 544.0 L396 528 M328 552.7 L386 542 M461 367.7 L410 398 M461 383.0 L410 416 M461 403.5 L415 410 M461 424.5 L404 423 M461 441.7 L404 438 M461 458.0 L418 452 M461 473.0 L416 462 M461 490.0 L418 478 M461 506.2 L404 490 M461 519.0 L400 500 M461 536.6 L404 510 M461 553.8 L410 520" stroke="#5a5a5a" stroke-width="0.55" stroke-dasharray="1.6 0.9" fill="none"/><g font-family="Liberation Sans" font-size="4.3" fill="#2a2a2a"><text x="327" y="368.0" text-anchor="end">N. Edinger-Westphal</text><text x="327" y="381.5" text-anchor="end">N. oculomotor</text><text x="327" y="396.5" text-anchor="end">N. troclear</text><text x="327" y="412.1" text-anchor="end">N. rafe dorsal</text><text x="327" y="428.3" text-anchor="end">N. rafe central</text><text x="327" y="441.9" text-anchor="end">N. motor del trigémino</text><text x="327" y="455.1" text-anchor="end">N. abducens</text><text x="327" y="469.1" text-anchor="end">N. facial</text><text x="327" y="482.9" text-anchor="end">N. rafe magno</text><text x="327" y="497.8" text-anchor="end">N. salivatorio</text><text x="327" y="512.1" text-anchor="end">N. ambiguo</text><text x="327" y="525.7" text-anchor="end">N. motor dorsal del vago</text><text x="327" y="535.8" text-anchor="end">N. hipogloso</text><text x="327" y="545.5" text-anchor="end">N. rafe oscuro</text><text x="327" y="554.2" text-anchor="end">N. espinal accesorio</text><text x="462.7" y="368.2">Núcleo reticular cuneiforme</text><text x="462.7" y="383.5">N. reticular tegmental</text><text x="462.7" y="388.3">pedúnculopontino</text><text x="462.7" y="404.0">N. mesencefálico</text><text x="462.7" y="408.8">del trigémino</text><text x="462.7" y="425.0">N. reticular tegmental</text><text x="462.7" y="429.8">dorsolateral</text><text x="462.7" y="442.2">N. reticulares pontinos</text><text x="462.7" y="447.0">oral y caudal</text><text x="462.7" y="458.5">N. principal del trigémino</text><text x="462.7" y="473.5">N. vestibulares</text><text x="462.7" y="490.5">N. cocleares</text><text x="462.7" y="506.7">N. reticular gigantocelular</text><text x="462.7" y="519.5">Formación reticular</text><text x="462.7" y="524.3">paramediana</text><text x="462.7" y="537.1">N. tracto solitario</text><text x="462.7" y="554.3">N. espinal del trigémino</text></g><rect x="280.8" y="364.9" width="3.2" height="3.2" fill="#d868a8"/><rect x="294.3" y="378.4" width="3.2" height="3.2" fill="#e05a2a"/><rect x="301.6" y="393.4" width="3.2" height="3.2" fill="#e05a2a"/><rect x="295.5" y="409.0" width="3.2" height="3.2" fill="#f08a30"/><rect x="294.5" y="425.2" width="3.2" height="3.2" fill="#f08a30"/><rect x="278.2" y="438.8" width="3.2" height="3.2" fill="#d02828"/><rect x="297.7" y="452.0" width="3.2" height="3.2" fill="#f08a30"/><rect x="306.5" y="466.0" width="3.2" height="3.2" fill="#d02828"/><rect x="294.2" y="479.8" width="3.2" height="3.2" fill="#f08a30"/><rect x="297.1" y="494.7" width="3.2" height="3.2" fill="#e070b0"/><rect x="299.6" y="509.0" width="3.2" height="3.2" fill="#d02828"/><rect x="274.8" y="522.6" width="3.2" height="3.2" fill="#e070b0"/><rect x="297.7" y="532.7" width="3.2" height="3.2" fill="#e05a2a"/><rect x="294.5" y="542.4" width="3.2" height="3.2" fill="#f08a30"/><rect x="282.0" y="551.1" width="3.2" height="3.2" fill="#e05a2a"/><rect x="520.0" y="365.1" width="3.2" height="3.2" fill="#6ab04a"/><rect x="508.0" y="380.4" width="3.2" height="3.2" fill="#6ab04a"/><rect x="500.0" y="400.9" width="3.2" height="3.2" fill="#2a9ad8"/><rect x="508.0" y="421.9" width="3.2" height="3.2" fill="#6ab04a"/><rect x="510.0" y="439.1" width="3.2" height="3.2" fill="#6ab04a"/><rect x="515.0" y="455.4" width="3.2" height="3.2" fill="#2a9ad8"/><rect x="495.0" y="470.4" width="3.2" height="3.2" fill="#3a5a9a"/><rect x="490.6" y="487.4" width="3.2" height="3.2" fill="#3a5a9a"/><rect x="516.7" y="503.6" width="3.2" height="3.2" fill="#6ab04a"/><rect x="504.4" y="516.4" width="3.2" height="3.2" fill="#6ab04a"/><rect x="499.4" y="534.0" width="3.2" height="3.2" fill="#6a8aa0"/><rect x="512.0" y="551.2" width="3.2" height="3.2" fill="#2a9ad8"/><g font-family="Liberation Sans" font-size="4.15" fill="#555"><rect x="327.5" y="559.5" width="3" height="3" fill="#e87030"/><text x="332" y="562.4">Motor somático</text><rect x="327.5" y="566.0" width="3" height="3" fill="#d02828"/><text x="332" y="568.9">Motor visceral especial*</text><rect x="327.5" y="572.5" width="3" height="3" fill="#e070b0"/><text x="332" y="575.4">Motor visceral parasimpático</text><rect x="327.5" y="579.0" width="3" height="3" fill="#f09040"/><text x="332" y="581.9">Núcleos del rafe</text><rect x="400.5" y="559.5" width="3" height="3" fill="#2a9ad8"/><text x="405.6" y="562.4">Sensorial somático</text><rect x="400.5" y="566.0" width="3" height="3" fill="#3a5a9a"/><text x="405.6" y="568.9">Sensorial somático especial-vestibular y auditivo</text><rect x="400.5" y="572.5" width="3" height="3" fill="#7a8a9a"/><text x="405.6" y="575.4">Sensorial visceral y gustativo</text><rect x="400.5" y="579.0" width="3" height="3" fill="#6ab04a"/><text x="405.6" y="581.9">Formación reticular</text></g></g></g></svg>
<div class="t" style="left:89px;top:106.03px;font-size:11.3px;color:#4a1424;font-weight:bold;font-style:normal;-webkit-text-stroke:0;transform:scaleY(1.14);transform-origin:0 84.65%;">Tronco del Encéfalo</div>
<div class="t tj" style="left:371.5px;width:126.5px;top:191.06px;font-size:6.9px;color:#1c1c28;font-weight:normal;font-style:normal;"><span style="color:#1e2040">Se extiende desde el</span> <span style="color:#1c1c28">Diencéfalo</span> <span style="color:#1e2040">hasta la</span></div>
<div class="t" style="left:371.5px;top:200.06px;font-size:6.9px;color:#1c1c28;font-weight:normal;font-style:normal;"><span style="color:#1e2040">Médula Espinal.</span></div>
<div class="t" style="left:371.5px;top:213.06px;font-size:6.9px;color:#1c1c28;font-weight:normal;font-style:normal;"><span style="color:#1e2040">Desarrolla funciones esenciales</span> <span style="color:#c83040;font-style:italic;font-size:5.2px;-webkit-text-stroke:0">(p. ej. respiración y</span></div>
<div class="t" style="left:371.5px;top:222.06px;font-size:6.9px;color:#1c1c28;font-weight:normal;font-style:normal;"><span style="color:#c83040;font-style:italic;font-size:5.2px;-webkit-text-stroke:0">cardiovasculares)</span> <span style="color:#1c1c28">y comunica el resto del</span></div>
<div class="t" style="left:371.5px;top:231.06px;font-size:6.9px;color:#1c1c28;font-weight:normal;font-style:normal;"><span style="color:#1c1c28">encéfalo con la médula</span> <span style="color:#c83040;font-style:italic;font-size:5.2px;-webkit-text-stroke:0">(vías sensitivas y motoras)</span></div>
<div class="t tj" style="left:371.5px;width:140.5px;top:262.16px;font-size:6.9px;color:#1c1c28;font-weight:normal;font-style:normal;"><span style="color:#3a4a78">Las 3 divisiones muestran la misma</span></div>
<div class="t tj" style="left:371.5px;width:140.5px;top:271.46px;font-size:6.9px;color:#1c1c28;font-weight:normal;font-style:normal;">organización general y se parcelan en 3</div>
<div class="t" style="left:371.5px;top:280.16px;font-size:6.9px;color:#1c1c28;font-weight:normal;font-style:normal;"><span style="color:#3a4a78">zonas.</span></div>
<div class="t" style="left:372px;top:288.16px;font-size:6.9px;color:#c02020;font-weight:normal;font-style:normal;">-</div>
<div class="t" style="left:383px;top:288.75px;font-size:6.2px;color:#d02838;font-weight:normal;font-style:italic;-webkit-text-stroke:0.05px currentColor;">Techo (Zona Dorsal)</div>
<div class="t" style="left:372px;top:296.46px;font-size:6.9px;color:#c02020;font-weight:normal;font-style:normal;">-</div>
<div class="t" style="left:383px;top:297.05px;font-size:6.2px;color:#d02838;font-weight:normal;font-style:italic;-webkit-text-stroke:0.05px currentColor;">Tegmento (Zona Central)</div>
<div class="t" style="left:372px;top:304.46px;font-size:6.9px;color:#c02020;font-weight:normal;font-style:normal;">-</div>
<div class="t" style="left:383px;top:305.05px;font-size:6.2px;color:#d02838;font-weight:normal;font-style:italic;-webkit-text-stroke:0.05px currentColor;">Base (Zona Ventral)</div>
<div class="t" style="left:89.6px;top:374.83px;font-size:11.3px;color:#4a1424;font-weight:bold;font-style:normal;-webkit-text-stroke:0;transform:scaleY(1.14);transform-origin:0 84.65%;">Tronco del Encéfalo</div>
<div class="t" style="right:339.5px;top:398.76px;font-size:6.9px;color:#1c1c28;font-weight:normal;font-style:normal;text-align:right;"><span style="color:#1c1c28">Aunque algunos nucleos son especificos de cada</span></div>
<div class="t" style="right:339.5px;top:407.96px;font-size:6.9px;color:#1c1c28;font-weight:normal;font-style:normal;text-align:right;"><span style="color:#1e2040">División,</span> <span style="color:#1c1c28">otros núcleos se distribuyen a lo largo de</span></div>
<div class="t" style="right:339.5px;top:417.26px;font-size:6.9px;color:#1c1c28;font-weight:normal;font-style:normal;text-align:right;"><span style="color:#1c1c28">toda la extensión del</span> <span>Tronco Encefálico</span></div>
<div class="t" style="left:90px;top:439.96px;font-size:6.9px;color:#1c1c28;font-weight:normal;font-style:normal;"><u>Núcleos de Nervios Craneales:</u></div>
<div class="t" style="left:90px;top:449.36px;font-size:6.9px;color:#c02020;font-weight:normal;font-style:normal;">-</div>
<div class="t" style="left:100.7px;top:449.36px;font-size:6.9px;color:#c02020;font-weight:normal;font-style:italic;">Núcleos Sensoriales: Zona Dorsal</div>
<div class="t" style="left:90px;top:457.96px;font-size:6.9px;color:#c02020;font-weight:normal;font-style:normal;">-</div>
<div class="t" style="left:100.7px;top:457.96px;font-size:6.9px;color:#c02020;font-weight:normal;font-style:italic;">Núcleos Motores: Zona Ventral</div>
<div class="t tj" style="left:90px;width:170.5px;top:477.16px;font-size:6.9px;color:#1c1c28;font-weight:normal;font-style:normal;"><u>Formación Reticular:</u> Grupos de Neuronas que forman</div>
<div class="t tj" style="left:90px;width:170.5px;top:486.16px;font-size:6.9px;color:#5a9a2a;font-weight:normal;font-style:normal;">tres columnas longitudinales en la zona central del</div>
<div class="t" style="left:90px;top:494.96px;font-size:6.9px;color:#5a9a2a;font-weight:normal;font-style:normal;">tronco</div>
<div class="t" style="left:90px;top:508.16px;font-size:6.9px;color:#1c1c28;font-weight:normal;font-style:normal;">-</div>
<div class="t tj" style="left:100.7px;width:159.8px;top:508.16px;font-size:6.9px;color:#1c1c28;font-weight:normal;font-style:normal;"><span style="color:#5a9a2a">Integra señales</span> provenientes de cerebelo,</div>
<div class="t" style="left:100.7px;top:516.76px;font-size:6.9px;color:#1c1c28;font-weight:normal;font-style:normal;">hipotálamo, corteza, sistemas sensoriales.</div>
<div class="t" style="left:90px;top:526.46px;font-size:6.9px;color:#1c1c28;font-weight:normal;font-style:normal;">-</div>
<div class="t tj" style="left:100.7px;width:159.8px;top:526.46px;font-size:6.9px;color:#1c1c28;font-weight:normal;font-style:normal;">Presenta <span style="color:#5a9a2a">interneuronas</span> que modulan conexiones</div>
<div class="t" style="left:100.7px;top:535.46px;font-size:6.9px;color:#1c1c28;font-weight:normal;font-style:normal;">entre núcleos sensoriales y motores</div>
<div style="position:absolute;left:126px;top:553.5px;width:139.5px;height:31.2px;background:#c6e1a8"></div>
<div class="t tj" style="left:131px;width:130px;top:557.66px;font-size:6.9px;color:#111;font-weight:normal;font-style:normal;">De esta forma regula <b>movimientos</b></div>
<div class="t tj" style="left:131px;width:130px;top:567.36px;font-size:6.9px;color:#111;font-weight:normal;font-style:normal;"><b>reflejos:</b> tragar, vomitar, ritmo</div>
<div class="t" style="left:131px;top:576.86px;font-size:6.9px;color:#111;font-weight:normal;font-style:normal;">cardiorrespiratorio, peristaltismo...</div>
<svg style="position:absolute;left:0;top:0" width="600" height="848"><path d="M110 553 V572 H121" stroke="#6a9f3a" stroke-width="1.8" fill="none"/><path d="M120 568.5 L125 572 L120 575.5 Z" fill="#6a9f3a"/><path d="M275 361.5 H269.5 V582.7 H275 M269.5 410.3 H263.7" stroke="#d02048" stroke-width="1.5" fill="none"/></svg>
</body></html>
